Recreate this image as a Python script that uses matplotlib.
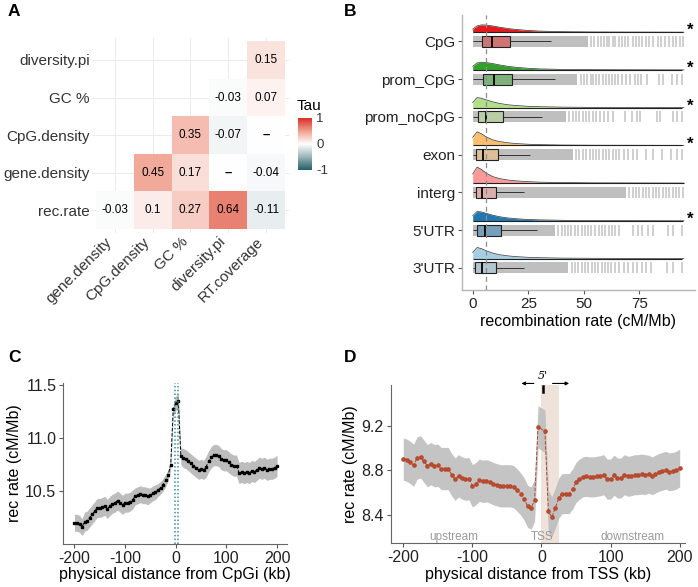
import numpy as np
import matplotlib
matplotlib.use("Agg")
import matplotlib.pyplot as plt
from matplotlib.colors import LinearSegmentedColormap, to_rgba
from matplotlib.patches import Rectangle

plt.rcParams['font.family'] = ['Liberation Sans', 'DejaVu Sans']
plt.rcParams['axes.unicode_minus'] = False

# ---------------- data ----------------
# A: Kendall tau matrix (rows bottom -> top, None = empty cell, "-" = not significant)
row_names = ["rec.rate", "gene.density", "CpG.density", "GC %", "diversity.pi"]
col_names = ["gene.density", "CpG.density", "GC %", "diversity.pi", "RT.coverage"]
tau_rec = [-0.03, 0.10, 0.27, 0.64, -0.11]
tau_gene = [None, 0.45, 0.17, 0.0, -0.04]
tau_cpg = [None, None, 0.35, -0.07, 0.0]
tau_gc = [None, None, None, -0.03, 0.07]
tau_div = [None, None, None, None, 0.15]
lab_rec = ["-0.03", "0.1", "0.27", "0.64", "-0.11"]
lab_gene = ["", "0.45", "0.17", "-", "-0.04"]
lab_cpg = ["", "", "0.35", "-0.07", "-"]
lab_gc = ["", "", "", "-0.03", "0.07"]
lab_div = ["", "", "", "", "0.15"]

# B: recombination rate per feature
features = ["CpG", "prom_CpG", "prom_noCpG", "exon", "interg", "5'UTR", "3'UTR"]
feat_colors = ["#e31a1c", "#33a02c", "#b2df8a", "#fdbf6f", "#fb9a99", "#1f78b4", "#a6cee3"]
q1 = [4.0, 4.8, 2.2, 1.4, 1.5, 1.8, 1.2]
median = [8.5, 9.8, 5.8, 4.8, 4.3, 5.5, 4.0]
q3 = [16.6, 17.8, 13.8, 11.2, 10.3, 12.9, 10.3]
whisk_hi = [35.3, 37.2, 31.0, 25.6, 22.9, 28.8, 23.2]
max_rate = [94.7, 94.3, 94.2, 94.3, 95.0, 94.5, 94.2]
signif = [True, True, True, True, False, True, False]
rug_solid = [52, 47, 42, 45, 69, 37, 43]
rug_lines = [
    [53, 54.5, 56.2, 57.5, 59, 60.3, 61.5, 63, 64.2, 65.8, 67, 68.3, 70, 72.2, 73.4, 75, 76.3, 78.1, 79.4, 81, 83.2, 84.8, 86.5, 88.2, 90, 91.4, 93.1, 94.5],
    [48.5, 50, 51.3, 53, 54.2, 55.6, 57, 58.4, 60, 61.2, 62.5, 64.1, 65.5, 67, 68.8, 70.7, 73, 74.2, 75.9, 78.2, 83.8, 85.7, 89.5, 91.7, 94],
    [43.5, 45, 46.4, 48, 49.6, 51, 52.3, 54, 55.4, 57.1, 59, 61, 63, 68.5, 71.5, 73.7, 75.2, 82.7, 84.2, 90.2, 91.7, 94],
    [46.5, 48, 49.4, 51, 52.6, 54, 55.3, 57, 58.6, 60, 61.4, 63, 64.6, 66, 68.2, 70, 72.1, 74, 78, 81, 85, 89.2, 92, 94],
    [70.5, 72, 73.6, 75, 76.4, 78, 79.5, 81.1, 82.5, 84, 85.6, 87, 88.4, 90, 91.5, 93, 94.6],
    [38.5, 40, 41.6, 43, 44.4, 46, 47.5, 49.1, 50.5, 52, 53.4, 55, 56.6, 58, 59.5, 61.2, 62.5, 64, 66, 72.2, 74.5, 76, 79, 81.2, 88, 90.2, 94],
    [44.5, 46, 47.4, 49, 50.6, 52, 53.5, 55.2, 56.5, 58, 59.6, 61, 62.4, 64, 66, 68.2, 70, 72, 74.1, 76, 78, 80, 87.2, 90.2, 94],
]
genome_median = 5.8
dens_x = [0, 2, 4, 6, 9, 12, 16, 20, 25, 30, 40, 55, 95]
# density heights (pixels)
dens_h = [
    [3.0, 6.3, 7.3, 7.1, 6.2, 5.0, 3.6, 2.6, 1.7, 1.1, 0.5, 0.2, 0],
    [3.5, 7.0, 7.7, 7.4, 6.3, 5.0, 3.5, 2.5, 1.6, 1.0, 0.5, 0.2, 0],
    [5.0, 10.0, 9.3, 7.8, 5.8, 4.2, 2.8, 2.0, 1.3, 0.9, 0.5, 0.2, 0],
    [8.0, 13.5, 11.5, 8.5, 5.5, 3.8, 2.5, 1.7, 1.1, 0.7, 0.3, 0.1, 0],
    [9.0, 16.0, 13.5, 10.0, 6.5, 4.5, 3.0, 2.1, 1.4, 0.9, 0.5, 0.2, 0],
    [5.0, 9.3, 8.8, 7.5, 5.6, 4.1, 2.8, 2.0, 1.3, 0.9, 0.5, 0.2, 0],
    [6.0, 11.0, 9.8, 7.8, 5.4, 3.8, 2.6, 1.8, 1.2, 0.8, 0.4, 0.2, 0],
]

# C: recombination around CpG islands
c_dist = list(range(-200, 205, 5))
c_rate = [10.20, 10.20, 10.19, 10.16, 10.21, 10.22, 10.25, 10.28, 10.31, 10.34,
          10.34, 10.35, 10.36, 10.33, 10.36, 10.38, 10.39, 10.41, 10.39, 10.37,
          10.39, 10.39, 10.40, 10.42, 10.45, 10.46, 10.47, 10.46, 10.46, 10.45,
          10.46, 10.48, 10.49, 10.51, 10.53, 10.56, 10.60, 10.65, 10.75, 11.27,
          11.33, 11.35, 10.83, 10.81, 10.80, 10.78, 10.76, 10.74, 10.72, 10.70,
          10.71, 10.70, 10.73, 10.78, 10.82, 10.84, 10.84, 10.83, 10.80, 10.79,
          10.79, 10.77, 10.75, 10.74, 10.74, 10.67, 10.68, 10.67, 10.68, 10.67,
          10.69, 10.68, 10.70, 10.72, 10.71, 10.72, 10.70, 10.71, 10.71, 10.72,
          10.74]
c_ci = [0.08, 0.08, 0.08, 0.08, 0.09, 0.09, 0.09, 0.09, 0.09, 0.09,
        0.09, 0.09, 0.09, 0.09, 0.09, 0.09, 0.09, 0.09, 0.09, 0.09,
        0.09, 0.09, 0.09, 0.09, 0.08, 0.08, 0.08, 0.08, 0.08, 0.08,
        0.07, 0.07, 0.07, 0.06, 0.06, 0.06, 0.06, 0.05, 0.05, 0.06,
        0.07, 0.07, 0.08, 0.09, 0.09, 0.09, 0.09, 0.09, 0.09, 0.09,
        0.09, 0.09, 0.10, 0.10, 0.10, 0.10, 0.10, 0.10, 0.10, 0.10,
        0.10, 0.10, 0.10, 0.10, 0.10, 0.10, 0.10, 0.10, 0.10, 0.10,
        0.10, 0.10, 0.10, 0.10, 0.10, 0.10, 0.10, 0.10, 0.10, 0.10,
        0.10]
cpgi_bounds = [-1.5, 4.5]

# D: recombination around TSS
d_dist = list(range(-200, 0, 5)) + list(range(5, 205, 5))
d_rate = [8.90, 8.89, 8.87, 8.845, 8.91, 8.92, 8.88, 8.84, 8.86, 8.84,
          8.845, 8.815, 8.815, 8.815, 8.76, 8.72, 8.75, 8.73, 8.72, 8.725,
          8.66, 8.68, 8.71, 8.70, 8.705, 8.695, 8.68, 8.67, 8.66, 8.66,
          8.66, 8.66, 8.65, 8.62, 8.585, 8.54, 8.475, 8.46, 8.53, 9.19,
          9.15, 8.43, 8.38, 8.46, 8.55, 8.59, 8.59, 8.59, 8.63, 8.69,
          8.72, 8.74, 8.745, 8.74, 8.74, 8.745, 8.75, 8.76, 8.72, 8.72,
          8.755, 8.73, 8.73, 8.76, 8.745, 8.75, 8.76, 8.76, 8.765, 8.76,
          8.765, 8.75, 8.765, 8.78, 8.79, 8.80, 8.785, 8.79, 8.80, 8.82]
d_ci = [0.19] * 40 + [0.19, 0.19, 0.18, 0.18, 0.18, 0.18, 0.18, 0.18, 0.18, 0.18,
                      0.18, 0.18, 0.18, 0.18, 0.18, 0.18, 0.18, 0.18, 0.18, 0.18,
                      0.18, 0.18, 0.18, 0.18, 0.18, 0.18, 0.18, 0.18, 0.18, 0.18,
                      0.17, 0.17, 0.17, 0.17, 0.17, 0.17, 0.17, 0.17, 0.17, 0.17]
utr5_span = [0, 25]

# ---------------- figure ----------------
W, H = 698, 587
fig = plt.figure(figsize=(W / 100, H / 100), dpi=100)


def px_axes(left, top, right, bottom):
    return fig.add_axes([left / W, 1 - bottom / H, (right - left) / W, (bottom - top) / H])


# ---- A: heatmap ----
axA = px_axes(92, 37.5, 289, 232.5)
tau = np.array([[np.nan if v is None else v for v in r]
                for r in [tau_rec, tau_gene, tau_cpg, tau_gc, tau_div]])
labs = [lab_rec, lab_gene, lab_cpg, lab_gc, lab_div]
cmap = LinearSegmentedColormap.from_list(
    "tau", ["#215f68", "#9bb3b8", "#ffffff", "#f0a08f", "#d62f26"])
for i in range(5):
    axA.axhline(i, color="#ebebeb", lw=0.7, zorder=0)
    axA.axvline(i, color="#ebebeb", lw=0.7, zorder=0)
edges = np.arange(6) - 0.5
mesh = axA.pcolormesh(edges, edges, np.ma.masked_invalid(tau), cmap=cmap,
                      vmin=-1, vmax=1, zorder=1)
for r in range(5):
    for c in range(5):
        if labs[r][c]:
            dash = labs[r][c] == "-"
            axA.text(c, r, "–" if dash else labs[r][c], ha="center", va="center",
                     fontsize=9.5 if dash else 8.5,
                     fontweight="bold" if dash else "normal", zorder=2)
axA.set_xlim(-0.6, 4.6)
axA.set_ylim(-0.6, 4.6)
axA.set_xticks(range(5))
axA.set_xticklabels(col_names, rotation=45, ha="right", va="top", fontsize=11)
axA.set_yticks(range(5))
axA.set_yticklabels(row_names, fontsize=11)
axA.tick_params(length=0, pad=1.5, colors="#333333")
for s in axA.spines.values():
    s.set_visible(False)

cax = px_axes(298, 118, 312, 170)
cb = fig.colorbar(mesh, cax=cax, ticks=[-1, 0, 1])
cb.outline.set_visible(False)
cb.ax.tick_params(length=0, labelsize=9.5, pad=3, colors="#333333")
cb.ax.set_yticklabels(["-1", "0", "1"])
fig.text(297 / W, 1 - 106 / H, "Tau", fontsize=11, va="center")

# ---- B: raincloud ----
axB = px_axes(462, 15, 695, 290)
bh = 5.5 / 37.7
for i, name in enumerate(features):
    yc = 7 - i
    col = feat_colors[i]
    axB.add_patch(Rectangle((0, yc - bh), rug_solid[i], 2 * bh, color="#bfbfbf", lw=0, zorder=1))
    axB.vlines(rug_lines[i], yc - bh, yc + bh, color="#c2c2c2", lw=1.1, zorder=1)
    axB.hlines(yc, 0, q1[i], color="#333333", lw=0.7, zorder=2)
    axB.hlines(yc, q3[i], whisk_hi[i], color="#333333", lw=0.7, zorder=2)
    axB.add_patch(Rectangle((q1[i], yc - bh), q3[i] - q1[i], 2 * bh,
                            facecolor=to_rgba(col, 0.45), edgecolor="#222222", lw=0.8, zorder=3))
    axB.vlines(median[i], yc - bh, yc + bh, color="black", lw=1.3, zorder=4)
    base = yc + 0.245
    top = [base + h / 37.7 for h in dens_h[i]]
    axB.fill_between(dens_x, base, top, color=col, lw=0, zorder=2)
    axB.plot(dens_x, top, color="#333333", lw=0.5, zorder=3)
    axB.hlines(base, 0, max_rate[i], color="#222222", lw=0.8, zorder=3)
    if signif[i]:
        axB.text(97.8, base + 0.04, "*", fontsize=12, ha="center", va="center",
                 fontweight="bold", clip_on=False)
axB.axvline(genome_median, color="#8c8c8c", lw=0.9, ls=(0, (4, 3)), zorder=5)
axB.set_xlim(-4.8, 100)
axB.set_ylim(0.41, 7.70)
axB.set_yticks([7 - i for i in range(7)])
axB.set_yticklabels(features, fontsize=12)
axB.set_xticks([0, 25, 50, 75])
axB.tick_params(labelsize=11, length=3, width=0.8, color="#555555", labelcolor="#222222", pad=2)
axB.set_xlabel("recombination rate (cM/Mb)", fontsize=11.5, labelpad=2)
for s in ["top", "right"]:
    axB.spines[s].set_visible(False)
for s in ["left", "bottom"]:
    axB.spines[s].set_color("#b5b5b5")
    axB.spines[s].set_linewidth(1.0)

# ---- C: CpG islands ----
axC = px_axes(63.3, 383, 286.7, 544)
cr = np.array(c_rate)
cc = np.array(c_ci)
axC.fill_between(c_dist, cr - cc, cr + cc, color="#bdbdbd", lw=0, zorder=1)
axC.plot(c_dist, c_rate, color="black", ls="--", lw=0.7, marker="s", ms=2.0, zorder=3)
for b in cpgi_bounds:
    axC.axvline(b, color="#3f8f8f", lw=1.1, ls=(0, (1, 1.5)), zorder=4)
axC.set_xlim(-222, 219)
axC.set_ylim(10.0, 11.52)
axC.set_xticks([-200, -100, 0, 100, 200])
axC.set_yticks([10.5, 11.0, 11.5])
axC.set_yticklabels(["10.5", "11.0", "11.5"])
axC.tick_params(labelsize=11.5, length=3, color="#555555", labelcolor="#222222", pad=2)
axC.set_xlabel("physical distance from CpGi (kb)", fontsize=11.5, labelpad=1)
axC.set_ylabel("rec rate (cM/Mb)", fontsize=11.5, labelpad=2)
for s in ["top", "right"]:
    axC.spines[s].set_visible(False)
for s in ["left", "bottom"]:
    axC.spines[s].set_color("#666666")

# ---- D: TSS ----
axD = px_axes(390.7, 385, 685, 543.3)
dr = np.array(d_rate)
dc = np.array(d_ci)
axD.axvspan(utr5_span[0], utr5_span[1], color="#eee2db", lw=0, zorder=0)
axD.fill_between(d_dist, dr - dc, dr + dc, color="#bfbfbf", alpha=0.92, lw=0, zorder=1)
axD.plot(d_dist, d_rate, color="#b4472b", ls="--", lw=0.7, marker="o", ms=2.3,
         mfc="#c0502f", mec="#b4472b", zorder=3)
for x, t in [(-127, "upstream"), (1, "TSS"), (132, "downstream")]:
    axD.text(x, 8.197, t, ha="center", va="center", fontsize=8.5, color="#9a9a9a")
axD.text(2, 9.645, "5'", ha="center", va="center", fontsize=8, family="DejaVu Serif",
         style="italic", clip_on=False)
axD.annotate("", xy=(-33, 9.58), xytext=(-7, 9.58), annotation_clip=False,
             arrowprops=dict(arrowstyle="-|>", lw=0.8, color="black", mutation_scale=5))
axD.annotate("", xy=(44, 9.58), xytext=(12, 9.58), annotation_clip=False,
             arrowprops=dict(arrowstyle="-|>", lw=0.8, color="black", mutation_scale=5))
axD.plot([2.3, 2.3], [9.505, 9.557], color="black", lw=1.8, clip_on=False, zorder=5)
axD.set_xlim(-218.2, 207.7)
axD.set_ylim(8.143, 9.566)
axD.set_xticks([-200, -100, 0, 100, 200])
axD.set_yticks([8.4, 8.8, 9.2])
axD.tick_params(labelsize=11.5, length=3, color="#555555", labelcolor="#222222", pad=2)
axD.set_xlabel("physical distance from TSS (kb)", fontsize=11.5, labelpad=1)
axD.set_ylabel("rec rate (cM/Mb)", fontsize=11.5, labelpad=2)
for s in ["top", "right"]:
    axD.spines[s].set_visible(False)
for s in ["left", "bottom"]:
    axD.spines[s].set_color("#666666")

# panel letters
for x, y, t in [(8, 11, "A"), (344, 11, "B"), (8, 357, "C"), (344, 357, "D")]:
    fig.text(x / W, 1 - y / H, t, fontsize=12.5, fontweight="bold", va="center")

fig.savefig("out.png", dpi=100)
